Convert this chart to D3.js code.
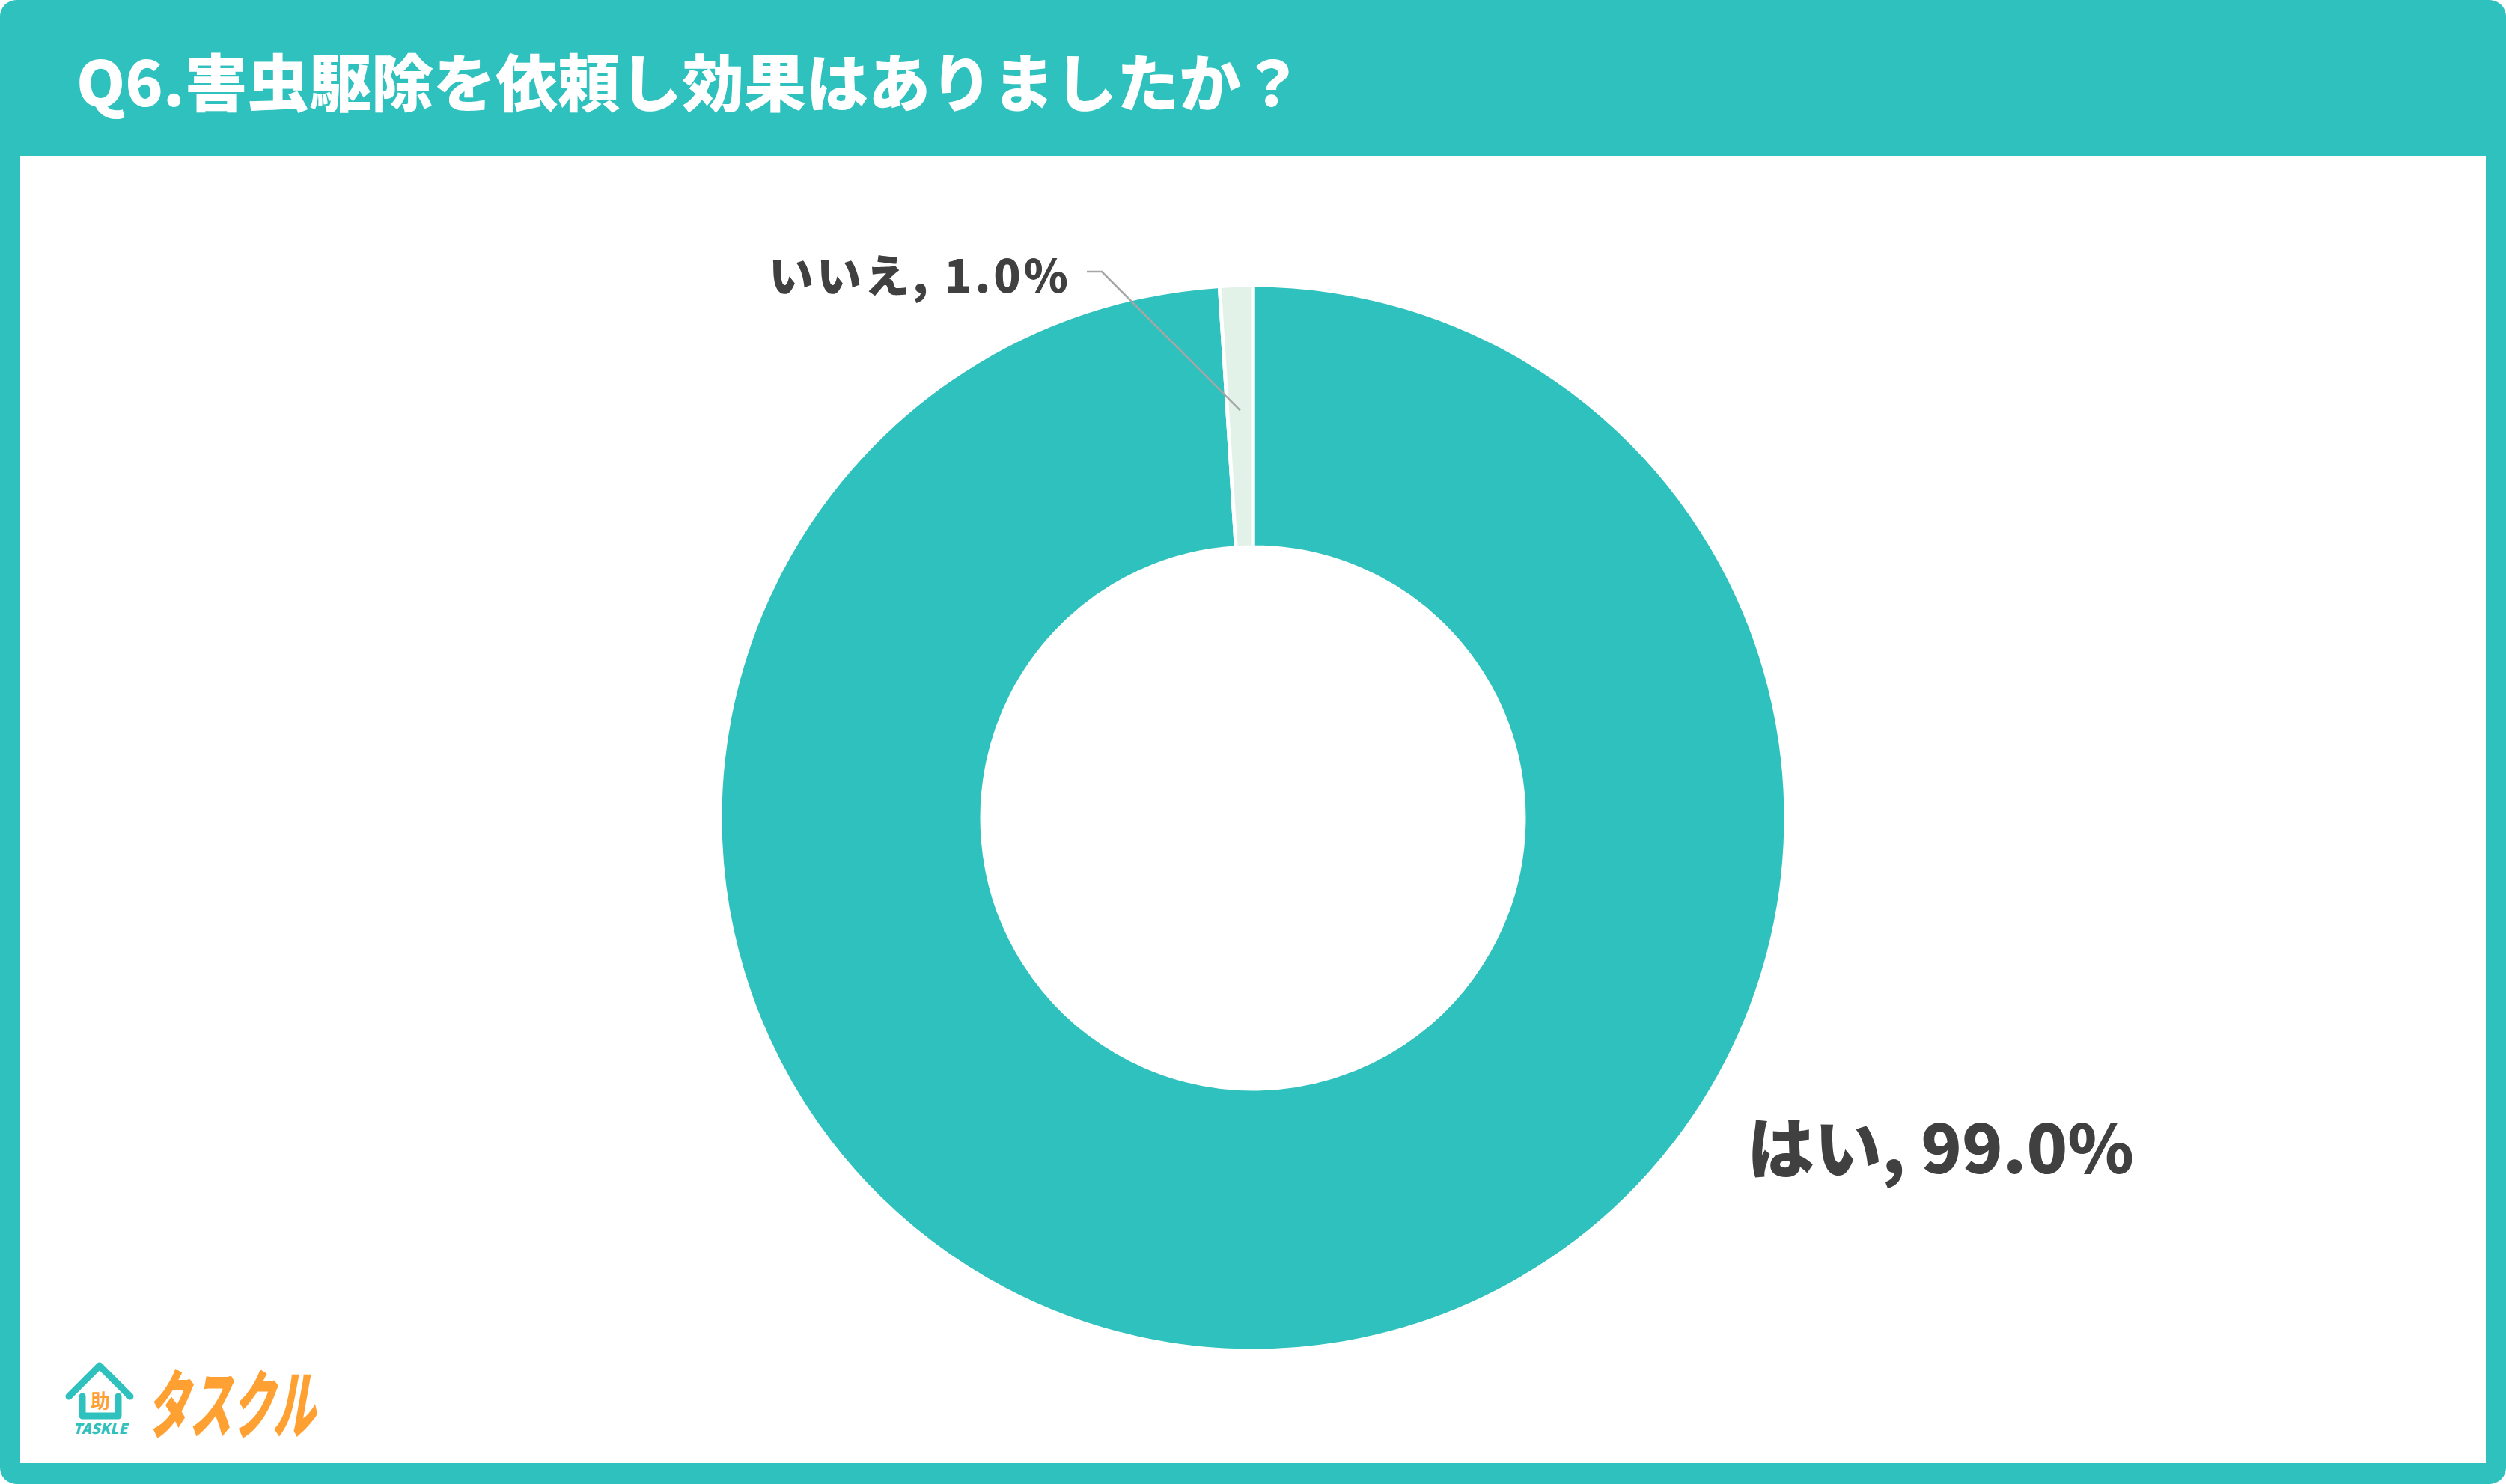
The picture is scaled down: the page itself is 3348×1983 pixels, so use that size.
<!DOCTYPE html>
<html lang="ja">
<head>
<meta charset="utf-8">
<style>
  body { margin: 0; background: #fff; }
  svg { display: block; font-family: "Noto Sans CJK JP", "Noto Sans", sans-serif; }
</style>
</head>
<body>
<script src="https://cdn.jsdelivr.net/npm/d3@7"></script>
<script>
var title = "Q6.害虫駆除を依頼し効果はありましたか？";
var labels = ["はい", "いいえ"];
var values = [99.0, 1.0];
var colors = ["#2ec1bd", "#e2f2e8"];

var W = 3348, H = 1983;
var svg = d3.select("body").append("svg").attr("width", W).attr("height", H);

// frame
svg.append("rect").attr("x", 0).attr("y", 0).attr("width", W).attr("height", H)
  .attr("rx", 22).attr("fill", "#2ec1bd");
svg.append("rect").attr("x", 27).attr("y", 208).attr("width", W - 54).attr("height", 1955 - 208)
  .attr("fill", "#fff");
svg.append("text").attr("x", 102).attr("y", 142).attr("fill", "#fff")
  .attr("font-size", 83).attr("font-weight", 900).text(title);

// donut
var cx = 1674, cy = 1093;
var pie = d3.pie().sort(null).value(function(d) { return d; });
var arc = d3.arc().innerRadius(362).outerRadius(712);
var arcs = pie(values);
var g = svg.append("g").attr("transform", "translate(" + cx + "," + cy + ")");
g.selectAll("path").data(arcs).enter().append("path")
  .attr("d", arc)
  .attr("fill", function(d, i) { return colors[i]; })
  .attr("stroke", "#fff").attr("stroke-width", 5);

// label for small slice
var mid = d3.arc().innerRadius(545).outerRadius(545).centroid(arcs[1]);
g.append("polyline")
  .attr("points", [[mid[0], mid[1]], [1472 - cx, 363 - cy], [1452 - cx, 363 - cy]].map(String).join(" "))
  .attr("fill", "none").attr("stroke", "#a6a6a6").attr("stroke-width", 2.5);
svg.append("text").attr("x", 1431).attr("y", 391).attr("text-anchor", "end")
  .attr("fill", "#404040").attr("font-size", 60).attr("font-weight", 900)
  .attr("letter-spacing", 4)
  .text(labels[1] + ", " + values[1].toFixed(1) + "%");
svg.append("text").attr("x", 2334).attr("y", 1568)
  .attr("fill", "#404040").attr("font-size", 90).attr("font-weight", 900)
  .attr("letter-spacing", 0)
  .text(labels[0] + ", " + values[0].toFixed(1) + "%");

// logo
var logo = svg.append("g");
logo.append("path").attr("d", "M92,1866 L133,1825 L174,1866")
  .attr("fill", "none").attr("stroke", "#2ec1bd").attr("stroke-width", 9)
  .attr("stroke-linecap", "round").attr("stroke-linejoin", "round");
logo.append("path").attr("d", "M110,1866 L110,1892 L158,1892 L158,1866")
  .attr("fill", "none").attr("stroke", "#2ec1bd").attr("stroke-width", 9)
  .attr("stroke-linecap", "round").attr("stroke-linejoin", "round");
logo.append("text").attr("x", 134).attr("y", 1882).attr("text-anchor", "middle")
  .attr("fill", "#ffa033").attr("font-size", 26).attr("font-weight", 700).text("助");
logo.append("text").attr("x", 134).attr("y", 1916).attr("text-anchor", "middle")
  .attr("fill", "#2ec1bd").attr("font-size", 19).attr("font-weight", 900)
  .attr("font-style", "italic").text("TASKLE");
logo.append("text").attr("transform", "translate(196,1914) skewX(-10)")
  .attr("fill", "#ffa033").attr("font-size", 100).attr("font-weight", 900)
  .attr("textLength", 225).attr("lengthAdjust", "spacingAndGlyphs").text("タスクル");
</script>
</body>
</html>
